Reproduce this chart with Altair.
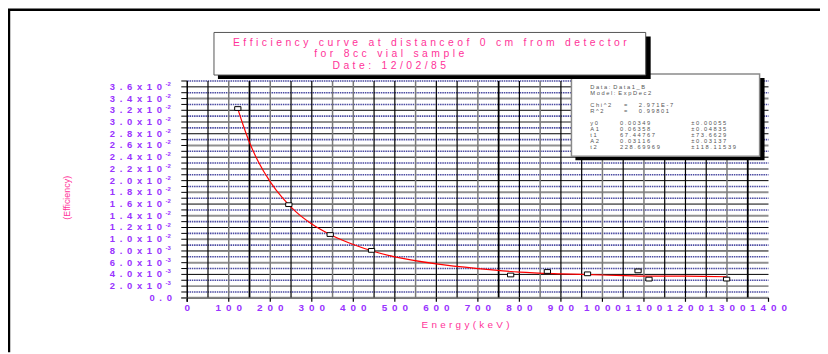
import altair as alt
import pandas as pd

# ---------------- data ----------------
energy_kev = [121.8, 244.7, 344.3, 443.9, 778.9, 867.4, 964.1, 1085.8, 1112.1, 1299.1]
efficiency = [0.0323, 0.0159, 0.0108, 0.0081, 0.0039, 0.0045, 0.0041, 0.0046, 0.0032, 0.0032]

fit_energy = [122, 135, 150, 170, 200, 230, 260, 300, 350, 400, 450, 500, 600, 700,
              800, 900, 1000, 1100, 1200, 1299]
fit_efficiency = [0.0322, 0.0294, 0.0265, 0.0234, 0.0198, 0.0170, 0.0148, 0.0126, 0.0106,
                  0.0091, 0.0079, 0.0070, 0.0058, 0.0050, 0.0044, 0.0041, 0.0039, 0.0037,
                  0.0037, 0.0036]

x_tick_values = [0, 100, 200, 300, 400, 500, 600, 700, 800, 900, 1000, 1100, 1200, 1300, 1400]
x_tick_labels = ["0", "100", "200", "300", "400", "500", "600", "700", "800", "900",
                 "1000", "1100", "1200", "1300", "1400"]

y_tick_values = [0.0, 0.002, 0.004, 0.006, 0.008, 0.010, 0.012, 0.014, 0.016, 0.018,
                 0.020, 0.022, 0.024, 0.026, 0.028, 0.030, 0.032, 0.034, 0.036]
y_tick_mantissa = ["0.0", "2.0x10", "4.0x10", "6.0x10", "8.0x10", "1.0x10",
                   "1.2x10", "1.4x10", "1.6x10", "1.8x10", "2.0x10", "2.2x10",
                   "2.4x10", "2.6x10", "2.8x10", "3.0x10", "3.2x10", "3.4x10",
                   "3.6x10"]
y_tick_exponent = ["", "-3", "-3", "-3", "-3", "-2", "-2", "-2", "-2", "-2", "-2", "-2",
                   "-2", "-2", "-2", "-2", "-2", "-2", "-2"]

y_minor_ticks = [0.000, 0.001, 0.002, 0.003, 0.004, 0.005, 0.006, 0.007, 0.008, 0.009,
                 0.010, 0.011, 0.012, 0.013, 0.014, 0.015, 0.016, 0.017, 0.018, 0.019,
                 0.020, 0.021, 0.022, 0.023, 0.024, 0.025, 0.026, 0.027, 0.028, 0.029,
                 0.030, 0.031, 0.032, 0.033, 0.034, 0.035, 0.036, 0.037]

h_grid_blue = [0.001, 0.003, 0.005, 0.007, 0.009, 0.011, 0.013, 0.015, 0.017, 0.019,
               0.021, 0.023, 0.025, 0.027, 0.029, 0.031, 0.033, 0.035, 0.037]
h_grid_gray = [0.0, 0.002, 0.006, 0.010, 0.014, 0.018, 0.022, 0.026, 0.030, 0.034]
h_grid_black = [0.004, 0.008, 0.012, 0.016, 0.020, 0.024, 0.028, 0.032, 0.036]

v_grid_black = [50, 250, 300, 450, 500, 600, 650, 800, 900, 950, 1050, 1150, 1200, 1250]
v_grid_gray = [100, 200, 350, 400, 550, 700, 850, 1000, 1100, 1300]
v_grid_thick = [150, 750, 1350]

title_lines = ["Efficiency curve at distanceof 0 cm from detector",
               "for 8cc vial sample",
               "Date: 12/02/85"]
x_title = "Energy(keV)"
y_title = "(Efficiency)"

stats_labels = ["Data: Data1_B", "Model: ExpDec2", "Chi^2", "R^2",
                "y0", "A1", "t1", "A2", "t2"]
stats_values = ["", "", "=  2.971E-7", "=  0.99801",
                "0.00349", "0.06358", "67.44767", "0.03116", "228.69969"]
stats_errors = ["", "", "", "", "\u00b10.00055", "\u00b10.04835", "\u00b173.6629",
                "\u00b10.03137", "\u00b1118.11539"]

# ---------------- layout ----------------
W, H = 587, 219
PAD_L, PAD_T, PAD_R, PAD_B = 181, 72, 52, 55
OX, OY = 8 + PAD_L, 8 + PAD_T  # page position of plot origin

PURPLE = "#9933ff"
PINK = "#ff3399"
FONT = "Liberation Sans"


def rx(a):
    return a - OX


def ry(a):
    return a - OY


def spaced(s, gap="\u2004", word="\u2004\u2004\u2004"):
    return word.join(gap.join(list(w)) for w in s.split(" "))


xs = alt.Scale(domain=[0, 1400], nice=False, zero=False)
ys = alt.Scale(domain=[0, 0.037], nice=False, zero=False)
one = pd.DataFrame({"k": [0]})


def hgrid(vals, **kw):
    return alt.Chart(pd.DataFrame({"v": vals})).mark_rule(**kw).encode(
        y=alt.Y("v:Q", scale=ys, axis=None), x=alt.value(0), x2=alt.value(W))


def vgrid(vals, **kw):
    return alt.Chart(pd.DataFrame({"v": vals})).mark_rule(**kw).encode(
        x=alt.X("v:Q", scale=xs, axis=None), y=alt.value(0), y2=alt.value(H))


def box(x0, y0, x1, y1, **kw):
    return alt.Chart(one).mark_rect(**kw).encode(
        x=alt.value(rx(x0)), x2=alt.value(rx(x1)), y=alt.value(ry(y0)), y2=alt.value(ry(y1)))


layers = []
layers.append(hgrid(h_grid_gray, color="#8f8f8f", strokeWidth=2))
layers.append(hgrid(h_grid_black, color="#000000", strokeWidth=1))
layers.append(hgrid(h_grid_blue, color="#2a2a90", strokeWidth=1.6, strokeDash=[1.5, 0.8], opacity=0.85))
layers.append(vgrid(v_grid_gray, color="#7a7a7a", strokeWidth=1.5))
layers.append(vgrid(v_grid_black, color="#000000", strokeWidth=1.2))
layers.append(vgrid(v_grid_thick, color="#000000", strokeWidth=1.8))

# y axis minor ticks + axis lines
layers.append(alt.Chart(pd.DataFrame({"v": y_minor_ticks})).mark_rule(color="black", strokeWidth=1).encode(
    y=alt.Y("v:Q", scale=ys, axis=None), x=alt.value(-6), x2=alt.value(0)))
layers.append(alt.Chart(one).mark_rule(color="black", strokeWidth=1.5).encode(
    x=alt.value(0), y=alt.value(0), y2=alt.value(H + 4)))
layers.append(alt.Chart(one).mark_rule(color="#777777", strokeWidth=1.5).encode(
    y=alt.value(H + 0.5), x=alt.value(-6), x2=alt.value(W)))
layers.append(alt.Chart(pd.DataFrame({"v": x_tick_values})).mark_rule(color="black", strokeWidth=1.2).encode(
    x=alt.X("v:Q", scale=xs, axis=None), y=alt.value(H), y2=alt.value(H + 4)))

# fitted curve and measured points
layers.append(alt.Chart(pd.DataFrame({"e": fit_energy, "f": fit_efficiency})).mark_line(
    color="#ff0000", strokeWidth=1.2, interpolate="monotone").encode(
    x=alt.X("e:Q", scale=xs, axis=None), y=alt.Y("f:Q", scale=ys, axis=None)))
layers.append(alt.Chart(pd.DataFrame({"e": energy_kev, "f": efficiency})).mark_point(
    shape="M-1,-0.6L1,-0.6L1,0.6L-1,0.6Z", size=40, filled=False, fill="white", fillOpacity=1,
    stroke="black", strokeWidth=1, opacity=1).encode(
    x=alt.X("e:Q", scale=xs, axis=None), y=alt.Y("f:Q", scale=ys, axis=None)))

# x tick labels
xl = pd.DataFrame({"v": x_tick_values, "t": [spaced(t, gap="\u2002") for t in x_tick_labels]})
layers.append(alt.Chart(xl).mark_text(font=FONT, fontSize=10, fontWeight="bold", color=PURPLE,
                                      align="center", baseline="middle").encode(
    x=alt.X("v:Q", scale=xs, axis=None), y=alt.value(ry(309.5)), text="t:N"))

# y tick labels (mantissa + superscript exponent)
yl = pd.DataFrame({"v": y_tick_values,
                   "m": [spaced(t, gap="\u2002") for t in y_tick_mantissa],
                   "e": y_tick_exponent})
yl_exp = yl[yl["e"] != ""]
yl_plain = yl[yl["e"] == ""]
layers.append(alt.Chart(yl_exp).mark_text(font=FONT, fontSize=9.5, fontWeight="bold", color=PURPLE,
                                          align="right", baseline="middle").encode(
    y=alt.Y("v:Q", scale=ys, axis=None), x=alt.value(rx(163.5)), text="m:N"))
layers.append(alt.Chart(yl_exp).mark_text(font=FONT, fontSize=6, fontWeight="bold", color=PURPLE,
                                          align="left", baseline="middle", dy=-3).encode(
    y=alt.Y("v:Q", scale=ys, axis=None), x=alt.value(rx(167)), text="e:N"))
layers.append(alt.Chart(yl_plain).mark_text(font=FONT, fontSize=9.5, fontWeight="bold", color=PURPLE,
                                            align="right", baseline="middle").encode(
    y=alt.Y("v:Q", scale=ys, axis=None), x=alt.value(rx(173.5)), text="m:N"))

# axis titles
layers.append(alt.Chart(one).mark_text(font=FONT, fontSize=10, color=PINK, align="center",
                                       baseline="middle").encode(
    x=alt.value(rx(470)), y=alt.value(ry(326)), text=alt.value(spaced(x_title))))
layers.append(alt.Chart(one).mark_text(font=FONT, fontSize=9, color=PINK, align="center",
                                       baseline="middle", angle=270).encode(
    x=alt.value(rx(68)), y=alt.value(ry(198)), text=alt.value(y_title)))

# stats box
layers.append(box(581, 77, 772, 160, color="black"))
layers.append(box(577, 73, 767, 156, fill="white", stroke="#8a8a8a", strokeWidth=1.5))
stat_y = [86, 92, 104, 110, 122.5, 128.5, 134.5, 140.5, 146.5]
SF = 5.8
sdf = pd.DataFrame({"t": [spaced(s, gap="\u00a0", word="\u2002") for s in stats_labels],
                    "y": [ry(v) for v in stat_y]})
layers.append(alt.Chart(sdf).mark_text(font=FONT, fontSize=SF, color="#555555", align="left",
                                       baseline="middle").encode(
    x=alt.value(rx(596)), y=alt.Y("y:Q", scale=None), text="t:N"))
vx = [0, 0, 630, 630, 626, 626, 626, 626, 626]
vdf = pd.DataFrame({"t": [spaced(s, gap="\u00a0", word="\u2002\u2002") for s in stats_values],
                    "y": [ry(v) for v in stat_y], "x": [rx(v) for v in vx]})
layers.append(alt.Chart(vdf).mark_text(font=FONT, fontSize=SF, color="#555555", align="left",
                                       baseline="middle").encode(
    x=alt.X("x:Q", scale=None), y=alt.Y("y:Q", scale=None), text="t:N"))
edf = pd.DataFrame({"t": [spaced(s, gap="\u00a0") for s in stats_errors], "y": [ry(v) for v in stat_y]})
layers.append(alt.Chart(edf).mark_text(font=FONT, fontSize=SF, color="#555555", align="left",
                                       baseline="middle").encode(
    x=alt.value(rx(698)), y=alt.Y("y:Q", scale=None), text="t:N"))

# title box
layers.append(box(220, 35, 657, 78, color="black"))
layers.append(box(216, 31, 652, 74, fill="white", stroke="#555555", strokeWidth=1))
tdf = pd.DataFrame({"t": [spaced(s) for s in title_lines],
                    "x": [rx(434), rx(393), rx(393)], "y": [ry(41.5), ry(53), ry(64.5)]})
layers.append(alt.Chart(tdf).mark_text(font=FONT, fontSize=10.5, color=PINK, align="center",
                                       baseline="middle").encode(
    x=alt.X("x:Q", scale=None), y=alt.Y("y:Q", scale=None), text="t:N"))

# outer frame (top and left)
layers.append(alt.Chart(one).mark_rule(color="black", strokeWidth=2.5).encode(
    x=alt.value(-PAD_L), x2=alt.value(W + PAD_R), y=alt.value(-PAD_T)))
layers.append(alt.Chart(one).mark_rule(color="black", strokeWidth=2.5).encode(
    x=alt.value(-PAD_L + 1), y=alt.value(-PAD_T), y2=alt.value(H + PAD_B)))

chart = alt.layer(*layers).properties(
    width=W, height=H, autosize="none",
    padding={"left": PAD_L, "top": PAD_T, "right": PAD_R, "bottom": PAD_B},
    background="white",
).configure_view(stroke=None)

chart.save("out.html", embed_options={"renderer": "svg", "actions": False})
